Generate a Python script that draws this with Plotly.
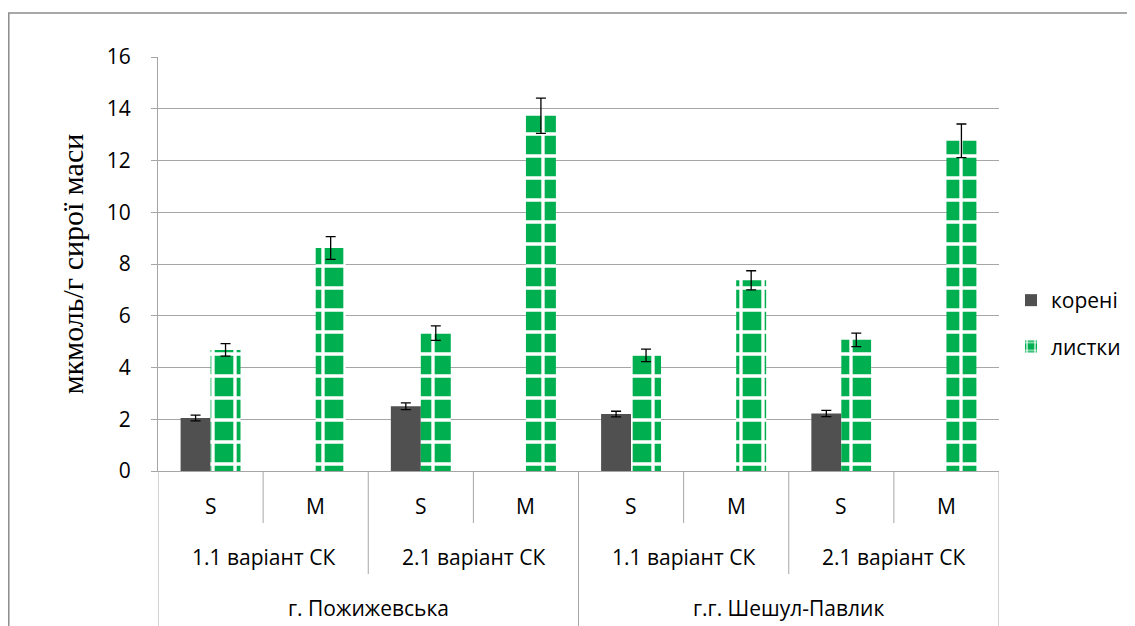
import plotly.graph_objects as go

# ---- data ----
sub_labels = ["S", "M", "S", "M", "S", "M", "S", "M"]
variant_labels = ["1.1 варіант СК", "2.1 варіант СК", "1.1 варіант СК", "2.1 варіант СК"]
location_labels = ["г. Пожижевська", "г.г. Шешул-Павлик"]

koreni = [2.05, None, 2.50, None, 2.20, None, 2.22, None]
koreni_err = [0.11, 0, 0.13, 0, 0.11, 0, 0.12, 0]
lystky = [4.68, 8.62, 5.33, 13.73, 4.47, 7.37, 5.07, 12.76]
lystky_err = [0.24, 0.44, 0.28, 0.68, 0.24, 0.37, 0.26, 0.65]

series_names = ["корені", "листки"]
y_ticks = [0, 2, 4, 6, 8, 10, 12, 14, 16]
y_title = "мкмоль/г сирої маси"

# ---- style ----
FONT = "'Open Sans', 'Noto Sans', sans-serif"
FS = 21
GRAY = "#a6a6a6"
DARK = "#505050"
GREEN = "#00b050"

# page has an 8px body margin: figure is placed at (8, 8)
W, HGT = 1119, 618
ML, MR, MT, MB = 150, 128, 49, 155
PW = W - ML - MR
H = float(HGT - MT - MB)

xs = list(range(len(sub_labels)))

fig = go.Figure()
fig.add_trace(go.Bar(
    x=xs, y=koreni, name=series_names[0],
    marker=dict(color=DARK, line=dict(width=0)),
    error_y=dict(type="data", array=koreni_err, color="black", thickness=1.3, width=5),
    legendgroup="a",
))
fig.add_trace(go.Bar(
    x=xs, y=lystky, name=series_names[1],
    marker=dict(color=GREEN, line=dict(width=0),
                pattern=dict(shape="+", fgcolor="white", bgcolor=GREEN,
                             size=22, solidity=0.28, fillmode="replace")),
    error_y=dict(type="data", array=lystky_err, color="black", thickness=1.3, width=5),
    legendgroup="b",
))

shapes = []
annotations = []
lvl1 = -52 / H
lvl2 = -103 / H
lvl3 = -170 / H
line_style = dict(color=GRAY, width=1)

n = len(sub_labels)
for i in range(n + 1):
    xb = i - 0.5
    if i % 4 == 0:
        bottom = lvl3
    elif i % 2 == 0:
        bottom = lvl2
    else:
        bottom = lvl1
    shapes.append(dict(type="line", xref="x", yref="paper", x0=xb, x1=xb, y0=0, y1=bottom, line=line_style))

tf = dict(family=FONT, size=FS, color="black")
for i, lab in enumerate(sub_labels):
    annotations.append(dict(x=i, y=-35 / H, xref="x", yref="paper", text=lab, showarrow=False,
                            font=tf, yanchor="middle"))
for j, lab in enumerate(variant_labels):
    annotations.append(dict(x=2 * j + 0.5, y=-86 / H, xref="x", yref="paper", text=lab, showarrow=False,
                            font=tf, yanchor="middle"))
for k, lab in enumerate(location_labels):
    annotations.append(dict(x=4 * k + 1.5, y=-137 / H, xref="x", yref="paper", text=lab, showarrow=False,
                            font=tf, yanchor="middle"))

# outer chart border
shapes.append(dict(type="rect", xref="paper", yref="paper",
                   x0=(0.8 - ML) / PW, x1=(W + 20 - ML) / PW,
                   y0=(MT + H - HGT - 20) / H, y1=(MT + H - 5) / H,
                   line=dict(color="#8c8c8c", width=1.5), layer="below"))

fig.update_layout(
    width=W, height=HGT,
    margin=dict(l=ML, r=MR, t=MT, b=MB, autoexpand=False),
    paper_bgcolor="white", plot_bgcolor="white",
    barmode="group", bargap=0.43, bargroupgap=0,
    font=dict(family=FONT, size=FS, color="black"),
    showlegend=True,
    legend=dict(x=(1003 - ML) / PW, y=(MT + H - 272) / H, xanchor="left", yanchor="top",
                font=tf, tracegroupgap=16, itemwidth=30, traceorder="grouped",
                bgcolor="rgba(0,0,0,0)"),
    shapes=shapes, annotations=annotations,
)
fig.update_xaxes(range=[-0.5, n - 0.5], showticklabels=False, showgrid=False, zeroline=False,
                 showline=True, linecolor=GRAY, linewidth=1, ticks="")
fig.update_yaxes(range=[0, 16], tickvals=y_ticks, showgrid=True, gridcolor=GRAY, gridwidth=1,
                 zeroline=False, showline=True, linecolor=GRAY, linewidth=1,
                 ticks="outside", ticklen=6, tickcolor=GRAY, ticklabelstandoff=16,
                 tickfont=tf,
                 title=dict(text=y_title, standoff=14,
                            font=dict(family="'Liberation Serif', 'Times New Roman', serif", size=30, color="black")))

fig.write_html("out.html")
